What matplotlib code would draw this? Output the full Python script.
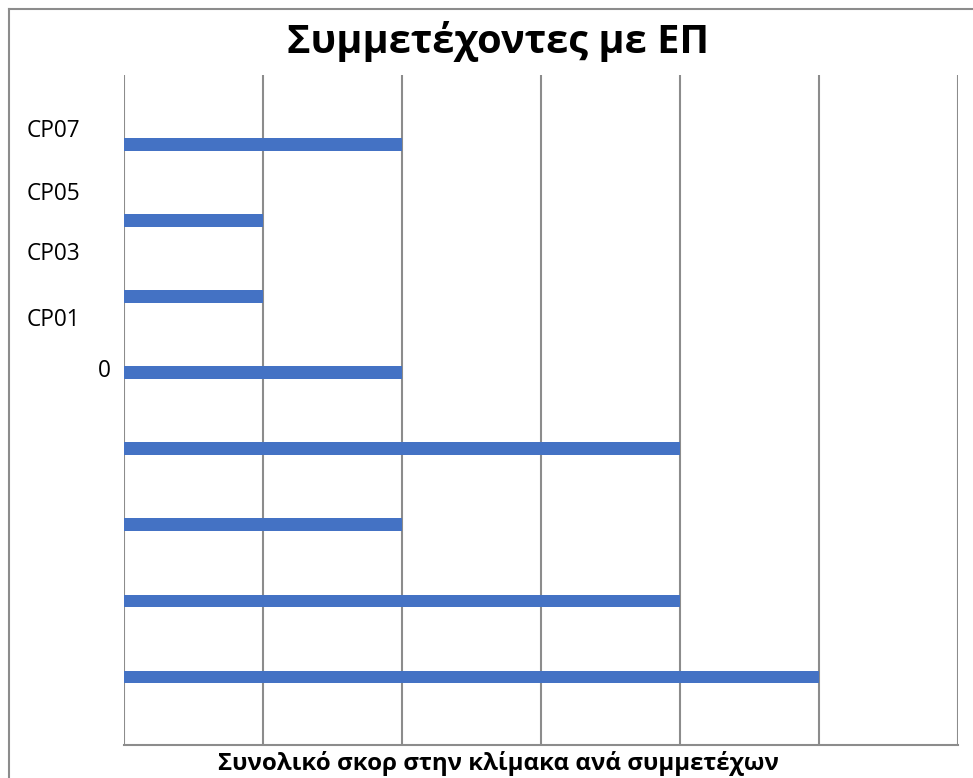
import matplotlib.pyplot as plt
import matplotlib.transforms as mtransforms
from matplotlib.lines import Line2D

# Scores per participant, bottom to top
scores = [5, 4, 2, 4, 2, 1, 1, 2]
positions = list(range(len(scores)))

# Category labels drawn beside the axis and their vertical positions (data units)
cp_labels = ["CP07", "CP05", "CP03", "CP01"]
cp_label_y = [7.18, 6.35, 5.57, 4.70]
zero_label = "0"
zero_label_y = 4.02

title = "Συμμετέχοντες με ΕΠ"
xlabel = "Συνολικό σκορ στην κλίμακα ανά συμμετέχων"

BAR_COLOR = "#4472C4"
GRID_COLOR = "#8C8C8C"
FONT = ["Open Sans", "DejaVu Sans"]

fig = plt.figure(figsize=(9.73, 7.78), dpi=100)
ax = fig.add_axes([124 / 973, 1 - 745 / 778, (958 - 124) / 973, (745 - 75) / 778])

ax.barh(positions, scores, height=0.17, color=BAR_COLOR, zorder=3)

ax.set_xlim(0, 6)
ax.set_ylim(-0.895, 7.92)
ax.set_xticks(range(0, 7))
ax.set_yticks([])
ax.tick_params(axis="x", length=0, labelbottom=False)
ax.grid(axis="x", color=GRID_COLOR, linewidth=1.5, zorder=0)
for side in ["top", "right", "left"]:
    ax.spines[side].set_visible(False)
ax.spines["bottom"].set_color(GRID_COLOR)
ax.spines["bottom"].set_linewidth(1.5)

trans = mtransforms.blended_transform_factory(ax.transAxes, ax.transData)
for lab, y in zip(cp_labels, cp_label_y):
    ax.text(-0.117, y, lab, transform=trans, ha="left", va="center",
            fontsize=16.3, family=FONT, color="#000000")
ax.text(-0.016, zero_label_y, zero_label, transform=trans, ha="right", va="center",
        fontsize=16.3, family=FONT, color="#000000")

fig.text(498 / 973, 1 - 42 / 778, title, ha="center", va="center",
         fontsize=28.6, fontweight="bold", family=FONT)
fig.text(498 / 973, 1 - 764 / 778, xlabel, ha="center", va="center",
         fontsize=17.3, fontweight="bold", family=FONT)

# Outer chart frame (left and top edges)
fx = 8.5 / 973
fy = 1 - 8.5 / 778
fig.add_artist(Line2D([fx, fx], [0, fy], transform=fig.transFigure,
                      color=GRID_COLOR, linewidth=1.5))
fig.add_artist(Line2D([fx, 1], [fy, fy], transform=fig.transFigure,
                      color=GRID_COLOR, linewidth=1.5))

fig.savefig("out.png", dpi=100)
